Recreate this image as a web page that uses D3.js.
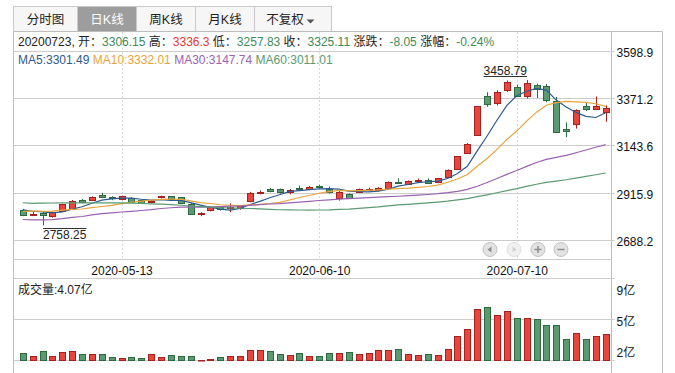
<!DOCTYPE html>
<html>
<head>
<meta charset="utf-8">
<script src="https://cdn.jsdelivr.net/npm/d3@7/dist/d3.min.js"></script>
<style>
html,body{margin:0;padding:0;background:#fff;overflow:hidden;}
svg{display:block;font-family:"Liberation Sans","Noto Sans CJK SC",Arial,sans-serif;font-size:12px;}
text{white-space:pre;}
</style>
</head>
<body>
<svg id="chart" width="675" height="373"></svg>
<script>
// ---------------- data ----------------
const dates = ["2020-04-24","2020-04-27","2020-04-28","2020-04-29","2020-04-30","2020-05-06","2020-05-07","2020-05-08","2020-05-11","2020-05-12",
"2020-05-13","2020-05-14","2020-05-15","2020-05-18","2020-05-19","2020-05-20","2020-05-21","2020-05-22","2020-05-25","2020-05-26",
"2020-05-27","2020-05-28","2020-05-29","2020-06-01","2020-06-02","2020-06-03","2020-06-04","2020-06-05","2020-06-08","2020-06-09",
"2020-06-10","2020-06-11","2020-06-12","2020-06-15","2020-06-16","2020-06-17","2020-06-18","2020-06-19","2020-06-22","2020-06-23",
"2020-06-24","2020-06-29","2020-06-30","2020-07-01","2020-07-02","2020-07-03","2020-07-06","2020-07-07","2020-07-08","2020-07-09",
"2020-07-10","2020-07-13","2020-07-14","2020-07-15","2020-07-16","2020-07-17","2020-07-20","2020-07-21","2020-07-22","2020-07-23"];

const opens = [2831,2812,2818,2804,2828,2838,2881,2883,2903,2896,
2884,2889,2880,2871,2895,2898,2893,2864,2815,2832,
2848,2842,2840,2874,2913,2934,2933,2920,2940,2932,
2950,2934,2890,2909,2918,2931,2930,2941,2970,2960,
2974,2978,2966,2993,3030,3107,3195,3383,3346,3412,
3425,3381,3434,3428,3357,3222,3248,3336,3320,3306.15];

const highs = [2838,2826,2824,2824,2862,2881,2886,2898,2916,2899,
2902,2893,2884,2881,2902,2900,2896,2866,2822,2849,
2852,2864,2856,2920,2927,2938,2936,2934,2950,2948,
2954,2946,2925,2913,2936,2940,2943,2970,2985,2975,
2984,2985,2987,3028,3092,3155,3334,3400,3410,3456.97,
3436,3458.79,3442,3440,3378,3255,3318,3350,3380,3336.3];

const lows = [2803,2803,2758.25,2796,2826,2836,2866,2879,2891,2880,
2880,2866,2862,2866,2888,2880,2866,2810,2803,2826,
2830,2822,2834,2870,2908,2918,2912,2908,2932,2928,
2936,2912,2878,2888,2914,2925,2925,2938,2958,2955,
2968,2958,2962,2990,3026,3104,3190,3330,3336,3401,
3380,3370,3372,3352,3208,3184,3225,3310,3316,3257.83];

const closes = [2808.53,2815.49,2810.02,2822.44,2860.08,2878.14,2871.52,2895.34,2894.80,2891.56,
2898.05,2870.34,2868.46,2875.42,2898.58,2883.74,2867.92,2813.77,2817.97,2846.55,
2836.80,2846.22,2852.35,2915.43,2921.40,2923.37,2919.25,2930.80,2937.77,2943.75,
2943.32,2920.90,2919.74,2890.03,2931.75,2935.87,2939.32,2967.63,2965.27,2970.62,
2979.55,2961.52,2984.67,3025.98,3090.57,3152.81,3332.88,3345.34,3403.44,3450.59,
3383.32,3443.29,3414.62,3361.30,3210.10,3214.13,3314.15,3320.90,3333.16,3325.11];

// volume in 亿
const volumes = [2.46,2.26,2.63,2.21,2.55,2.63,2.38,2.38,2.38,2.13,
2.04,2.13,2.04,2.38,2.13,2.30,2.21,2.21,1.93,1.98,
2.13,2.21,2.21,2.72,2.72,2.63,2.38,2.30,2.46,2.21,
2.21,2.46,2.46,2.55,2.38,2.46,2.72,2.72,2.80,2.38,
2.30,2.38,2.30,2.80,3.89,4.48,6.17,6.33,5.66,6.00,
5.41,5.41,5.32,4.82,4.82,3.64,4.15,3.64,3.89,4.07];

const ma5 = [2834.1,2826.7,2823.3,2819.0,2823.3,2837.2,2848.4,2865.5,2880.0,2886.3,
2890.3,2890.0,2884.6,2880.8,2882.2,2879.3,2878.8,2867.9,2856.4,2846.0,
2836.6,2832.3,2840.0,2859.5,2874.4,2891.8,2906.4,2922.1,2926.5,2931.0,
2935.0,2935.3,2933.1,2923.5,2921.1,2919.7,2923.3,2932.9,2948.0,2955.7,
2964.5,2968.9,2972.3,2984.5,3008.5,3043.1,3117.4,3189.5,3265.0,3337.0,
3383.1,3405.2,3419.1,3410.6,3362.5,3328.7,3302.9,3284.1,3278.5,3301.49];

const ma10 = [2825.1,2828.3,2826.6,2827.7,2831.7,2835.7,2837.6,2844.4,2849.5,2854.8,
2863.8,2869.2,2875.1,2880.4,2884.3,2884.8,2884.4,2876.3,2868.6,2864.1,
2858.0,2855.6,2854.0,2858.0,2860.2,2864.2,2869.4,2881.1,2893.0,2902.7,
2913.4,2920.9,2927.6,2925.0,2926.1,2927.4,2929.3,2933.0,2935.8,2938.4,
2942.1,2946.1,2952.6,2966.3,2982.1,3003.8,3043.2,3080.9,3124.8,3172.8,
3213.1,3261.3,3304.3,3337.8,3349.8,3355.9,3354.1,3351.6,3344.6,3332.01];

const ma30 = [2787.1,2784.7,2785.4,2786.8,2791.2,2797.1,2801.3,2809.2,2814.9,2818.6,
2823.1,2826.4,2830.4,2834.6,2840.1,2843.5,2847.0,2846.8,2846.9,2847.6,
2848.9,2851.0,2851.9,2855.3,2858.7,2861.6,2863.8,2867.2,2870.4,2873.9,
2878.4,2881.9,2885.5,2887.8,2890.2,2892.1,2894.4,2896.8,2899.1,2901.8,
2904.5,2907.5,2911.4,2916.4,2922.8,2931.8,2947.3,2965.0,2984.5,3004.6,
3022.9,3042.8,3061.5,3076.4,3086.0,3095.7,3108.8,3121.8,3135.0,3147.74];

const ma60 = [2867.6,2864.9,2866.0,2866.6,2867.3,2867.5,2867.4,2867.5,2867.4,2866.8,
2866.7,2865.9,2864.0,2862.2,2860.9,2858.5,2855.6,2852.0,2848.8,2846.4,
2843.8,2843.2,2841.2,2839.9,2838.4,2835.9,2834.0,2833.8,2832.8,2832.4,
2832.7,2833.3,2835.5,2837.3,2840.7,2844.6,2847.8,2853.0,2857.0,2860.2,
2863.8,2866.9,2870.9,2875.5,2881.4,2887.7,2897.1,2905.9,2915.7,2926.1,
2935.9,2946.9,2956.7,2965.8,2972.3,2978.6,2986.3,2994.5,3002.7,3011.01];

const priceTicks = [2688.2, 2915.9, 3143.6, 3371.2, 3598.9];
const dateTicks = ["2020-05-13","2020-06-10","2020-07-10"];
const volDomain = [1.9, 8.8];
const volTickLabels = ["9亿","5亿","2亿"];
const tabLabels = ["分时图","日K线","周K线","月K线","不复权"];
const headerDate = "20200723";
const headerLabels = ["开","高","低","收","涨跌","涨幅"];
const headerValues = [3306.15, 3336.3, 3257.83, 3325.11, -8.05, -0.24];
const prevClose = 3333.16;
const maNames = ["MA5","MA10","MA30","MA60"];

// ---------------- styles ----------------
const RED = "#e8463d", RED_D = "#a32121", GRN = "#5b9a71", GRN_D = "#2e6a41";
const TXT_RED = "#e8382f", TXT_GRN = "#3d8b5b";
const maColors = ["#2c5b91", "#e8a43c", "#9a62b0", "#5b9a72"];
const GRID = "#cccccc";

const svg = d3.select("#chart");
const L = 13.5, AX = 611.5, RB = 662.5;

// ---------------- scales ----------------
const xs = d3.scalePoint().domain(dates).range([17.8, 610.6]).padding(0.5);
const cx = d => Math.round(xs(d));
const y = d3.scaleLinear().domain([2688.2, 3598.9]).range([240, 51]);
const yRound = y.copy().interpolate(d3.interpolateRound);
const yv = d3.scaleLinear().domain(volDomain).range([360, 278]);
const yvRound = yv.copy().interpolate(d3.interpolateRound);

// ---------------- tabs ----------------
const tabEdges = [13.5, 77.5, 136.5, 195.5, 254.5, 331.5];
const tabs = svg.append("g");
tabLabels.forEach((t, i) => {
  const x0 = tabEdges[i], x1 = tabEdges[i + 1];
  tabs.append("rect").attr("x", x0).attr("y", 6.5).attr("width", x1 - x0).attr("height", 25)
    .attr("fill", i === 1 ? "#9d9d9d" : "#f6f6f6").attr("stroke", "#c9c9c9");
  const last = i === tabLabels.length - 1;
  tabs.append("text").attr("x", last ? (x0 + x1) / 2 - 8 : (x0 + x1) / 2).attr("y", 23.5)
    .attr("text-anchor", "middle").attr("fill", i === 1 ? "#ffffff" : "#222")
    .style("font-size", "12.5px").text(t);
  if (last) {
    tabs.append("path").attr("d", `M${x1 - 25},19.5 L${x1 - 17},19.5 L${x1 - 21},23.5 Z`).attr("fill", "#555");
  }
});

// ---------------- frame ----------------
const frame = svg.append("g").attr("stroke", "#bdbdbd").attr("fill", "none");
frame.append("line").attr("x1", L).attr("x2", RB).attr("y1", 31.5).attr("y2", 31.5);
frame.append("line").attr("x1", L).attr("x2", L).attr("y1", 31.5).attr("y2", 373);
frame.append("line").attr("x1", AX).attr("x2", AX).attr("y1", 31.5).attr("y2", 373);
frame.append("line").attr("x1", RB).attr("x2", RB).attr("y1", 31.5).attr("y2", 373);
frame.append("line").attr("x1", L).attr("x2", AX).attr("y1", 259.5).attr("y2", 259.5).attr("stroke", GRID);

// dashed date gridlines
svg.append("g").selectAll("line").data(dateTicks).join("line")
  .attr("x1", d => cx(d) + 0.5).attr("x2", d => cx(d) + 0.5)
  .attr("y1", 32).attr("y2", 259)
  .attr("stroke", "#d9d9d9").attr("stroke-dasharray", "2,2");

// price axis with gridlines
const pAxis = svg.append("g").attr("transform", `translate(${AX + 3},0)`)
  .call(d3.axisRight(yRound).tickValues(priceTicks).tickFormat(d3.format(".1f"))
    .tickSize(-(AX + 3 - L)).tickPadding(2));
pAxis.select(".domain").remove();
pAxis.selectAll(".tick line").attr("stroke", GRID);
pAxis.selectAll(".tick text").attr("x", 2).attr("dy", "0.45em").attr("fill", "#111")
  .style("font-size", "12px").style("font-family", '"Liberation Sans",Arial,sans-serif');

// volume axis
const vTicks = [volDomain[1], d3.mean(volDomain), volDomain[0]];
const vDy = [16.5, 6, -3.5];
const vAxis = svg.append("g").attr("transform", `translate(${AX + 3},0)`)
  .call(d3.axisRight(yvRound).tickValues(vTicks).tickFormat((d, i) => volTickLabels[i])
    .tickSize(-(AX + 3 - L)).tickPadding(2));
vAxis.select(".domain").remove();
vAxis.selectAll(".tick line").attr("stroke", GRID);
vAxis.selectAll(".tick text").attr("x", 2).attr("dy", (d, i) => vDy[i]).attr("fill", "#111")
  .style("font-size", "12px").style("font-family", '"Liberation Sans","Noto Sans CJK SC",Arial,sans-serif');

// date axis
const xAxis = svg.append("g").attr("transform", "translate(0,263.5)")
  .call(d3.axisBottom(xs).tickValues(dateTicks).tickSize(0).tickPadding(3));
xAxis.select(".domain").remove();
xAxis.selectAll(".tick text").attr("fill", "#111").style("font-size", "12px")
  .style("font-family", '"Liberation Sans",Arial,sans-serif');

// ---------------- candles ----------------
const bars = dates.map((d, i) => ({ d, o: opens[i], h: highs[i], l: lows[i], c: closes[i], v: volumes[i] }));
const cg = svg.append("g");
cg.selectAll("line.wick").data(bars).join("line").attr("class", "wick")
  .attr("x1", b => cx(b.d) + 0.5).attr("x2", b => cx(b.d) + 0.5)
  .attr("y1", b => y(b.h)).attr("y2", b => y(b.l))
  .attr("stroke", b => b.c >= b.o ? RED_D : GRN_D).attr("stroke-width", 1);
cg.selectAll("rect.body").data(bars).join("rect").attr("class", "body")
  .attr("x", b => cx(b.d) - 2.5).attr("width", 6)
  .attr("y", b => Math.round(y(Math.max(b.o, b.c))) + 0.5)
  .attr("height", b => Math.max(1, Math.round(y(Math.min(b.o, b.c))) - Math.round(y(Math.max(b.o, b.c)))))
  .attr("fill", b => b.c >= b.o ? RED : GRN)
  .attr("stroke", b => b.c >= b.o ? RED_D : GRN_D).attr("stroke-width", 1);

// ---------------- MA lines ----------------
const maSeries = [ma5, ma10, ma30, ma60];
const lineGen = d3.line().x((v, i) => xs(dates[i])).y(v => y(v));
svg.append("g").selectAll("path").data(maSeries).join("path")
  .attr("d", s => lineGen(s)).attr("fill", "none")
  .attr("stroke", (s, i) => maColors[i]).attr("stroke-width", 1.2);

// ---------------- high / low markers ----------------
const hiIdx = d3.maxIndex(highs), loIdx = d3.minIndex(lows);
const hiX = cx(dates[hiIdx]), hiY = y(highs[hiIdx]);
const hiT = svg.append("text").attr("x", hiX).attr("y", hiY - 5.5).attr("text-anchor", "end")
  .attr("fill", "#222").text(String(highs[hiIdx]));
const hiW = hiT.node().getComputedTextLength();
svg.append("line").attr("x1", hiX - hiW).attr("x2", hiX).attr("y1", Math.round(hiY - 4) + 0.5).attr("y2", Math.round(hiY - 4) + 0.5).attr("stroke", "#333");
const loX = cx(dates[loIdx]), loY = y(lows[loIdx]);
const loT = svg.append("text").attr("x", loX).attr("y", loY + 14).attr("fill", "#222").text(String(lows[loIdx]));
const loW = loT.node().getComputedTextLength();
svg.append("line").attr("x1", loX).attr("x2", loX + loW).attr("y1", Math.round(loY + 3) + 0.5).attr("y2", Math.round(loY + 3) + 0.5).attr("stroke", "#333");

// ---------------- volume bars ----------------
const vg = svg.append("g");
vg.selectAll("rect").data(bars).join("rect")
  .attr("x", b => cx(b.d) - 2.5).attr("width", 6)
  .attr("y", b => Math.round(yv(b.v)) + 0.5)
  .attr("height", b => Math.max(0.5, 360 - Math.round(yv(b.v))))
  .attr("fill", b => b.c >= b.o ? RED : GRN)
  .attr("stroke", b => b.c >= b.o ? RED_D : GRN_D).attr("stroke-width", 1);

// ---------------- header texts ----------------
const hdr = svg.append("text").attr("x", 18).attr("y", 45.5).attr("fill", "#222");
hdr.append("tspan").text(headerDate + ", ");
headerLabels.forEach((lab, i) => {
  const v = headerValues[i];
  const up = i < 4 ? v > prevClose : v > 0;
  hdr.append("tspan").attr("fill", "#222").text((i ? " " : "") + lab + "：");
  const s = i === 5 ? v.toFixed(2) + "%" : String(v);
  hdr.append("tspan").attr("fill", up ? TXT_RED : TXT_GRN).text(s);
});

const maT = svg.append("text").attr("x", 18).attr("y", 64);
maNames.forEach((n, i) => {
  const s = maSeries[i];
  maT.append("tspan").attr("fill", maColors[i]).text((i ? " " : "") + n + ":" + s[s.length - 1].toFixed(2));
});

svg.append("text").attr("x", 18).attr("y", 293.5).attr("fill", "#222")
  .text("成交量:" + volumes[volumes.length - 1].toFixed(2) + "亿");

// ---------------- nav buttons ----------------
const navX = [490, 514, 538, 561], navY = 249.5;
const nav = svg.append("g");
navX.forEach((x, i) => {
  const dis = i === 1;
  nav.append("circle").attr("cx", x).attr("cy", navY).attr("r", 7)
    .attr("fill", dis ? "#f0f0f0" : "#e2e2e2").attr("stroke", dis ? "#dedede" : "#c2c2c2");
  const gc = dis ? "#d2d2d2" : "#8e8e8e";
  if (i === 0) nav.append("path").attr("d", `M${x - 2.5},${navY} L${x + 1.5},${navY - 3} L${x + 1.5},${navY + 3} Z`).attr("fill", gc);
  if (i === 1) nav.append("path").attr("d", `M${x + 2.5},${navY} L${x - 1.5},${navY - 3} L${x - 1.5},${navY + 3} Z`).attr("fill", gc);
  if (i >= 2) nav.append("line").attr("x1", x - 3.5).attr("x2", x + 3.5).attr("y1", navY).attr("y2", navY).attr("stroke", gc).attr("stroke-width", 1.5);
  if (i === 2) nav.append("line").attr("x1", x).attr("x2", x).attr("y1", navY - 3.5).attr("y2", navY + 3.5).attr("stroke", gc).attr("stroke-width", 1.5);
});
</script>
</body>
</html>
